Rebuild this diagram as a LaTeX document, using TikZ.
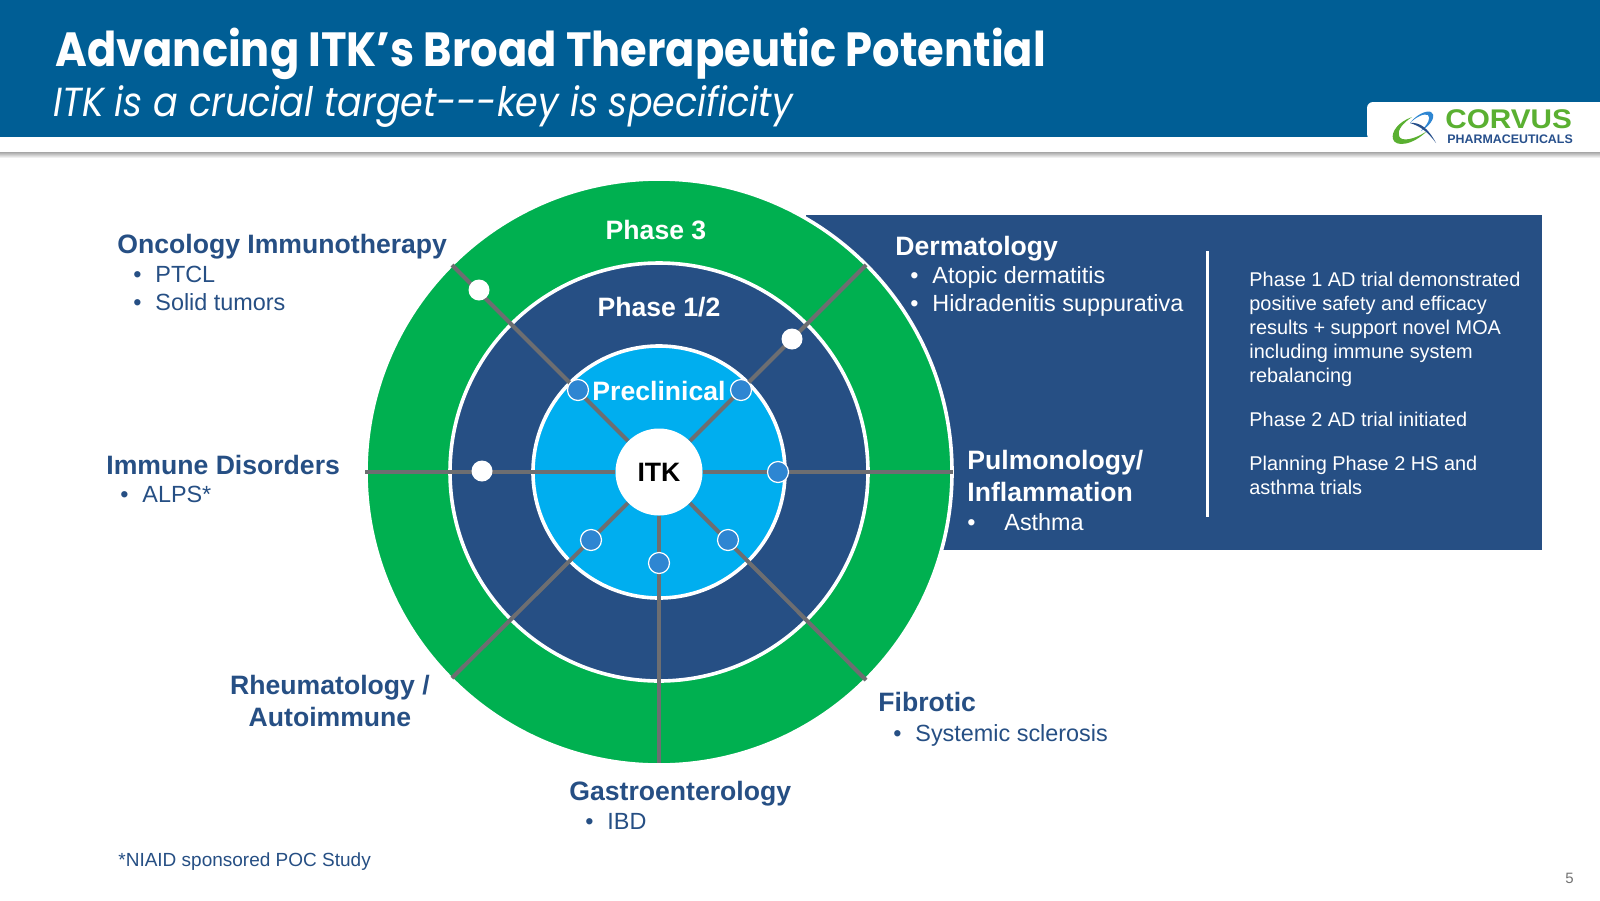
\documentclass[tikz,border=0pt]{standalone}
\usepackage{fontspec}
\setmainfont{Liberation Sans}
\newfontfamily\titlefont[FakeStretch=0.9]{Poppins}
\newfontfamily\logofont[FakeStretch=1.1]{Liberation Sans}
\definecolor{headblue}{RGB}{0,94,149}
\definecolor{navy}{RGB}{38,79,132}
\definecolor{skyblue}{RGB}{0,174,239}
\definecolor{ringgreen}{RGB}{0,176,80}
\definecolor{spokegray}{RGB}{109,110,113}
\definecolor{dotblue}{RGB}{46,134,210}
\definecolor{logogreen}{RGB}{90,176,49}
\definecolor{logoblue}{RGB}{39,80,140}
\newcommand{\fs}[2]{\fontsize{#1}{#2}\selectfont}
\newcommand{\bul}[1]{\makebox[11pt][l]{•}#1}
\tikzset{
	ring/.style={circle, draw=white, line width=1.8pt, inner sep=0pt},
	spoke/.style={draw=spokegray, line width=2pt},
	bigdot/.style={circle, fill=white, minimum size=10.5pt, inner sep=0pt},
	smalldot/.style={circle, fill=dotblue, draw=white, line width=0.6pt, minimum size=10.5pt, inner sep=0pt},
	head/.style={anchor=base west, inner sep=0pt, align=left, text=navy, font=\bfseries\fs{13.3}{15.7}},
	lst/.style={anchor=base west, inner sep=0pt, align=left, text=navy, font=\fs{11.7}{13.6}},
	note/.style={anchor=base west, inner sep=0pt, align=left, text=white, font=\fs{9.95}{12}},
	phase/.style={anchor=base, inner sep=0pt, text=white, font=\bfseries\fs{13.3}{15}}
}
\begin{document}
\begin{tikzpicture}[x=0.5pt,y=-0.5pt]
	\useasboundingbox (0,0) rectangle (1600,900);
	\fill[white] (0,0) rectangle (1600,900);
	% header
	\fill[headblue] (0,0) rectangle (1600,137);
	\fill[white, rounded corners=3pt] (1367,140) -- (1367,102) -- (1610,102) -- (1610,140) -- cycle;
	\fill[white] (0,137) rectangle (1600,152);
	\shade[top color=black!35, bottom color=white] (0,152) rectangle (1600,158);
	\node[anchor=base west, inner sep=0pt, text=white, font=\titlefont\bfseries\fs{24}{26}] (title) at (55,66) {Advancing ITK’s Broad Therapeutic Potential};
	\node[anchor=base west, inner sep=0pt, text=white, font=\titlefont\itshape\fs{20.3}{22}] (subtitle) at (53,116) {ITK is a crucial target---key is specificity};
	% logo
	\fill[logogreen] (1412,117) .. controls (1398,122) and (1391,132) .. (1393,139) .. controls (1395,147) and (1412,146) .. (1427,131) .. controls (1414,140) and (1401,142) .. (1399,136) .. controls (1397,130) and (1403,123) .. (1412,117) -- cycle;
	\fill[dotblue] (1410,123) .. controls (1416,115) and (1426,110) .. (1431,112) .. controls (1436,114) and (1433,124) .. (1421,131) .. controls (1428,124) and (1431,118) .. (1428,115) .. controls (1424,113) and (1416,117) .. (1410,123) -- cycle;
	\fill[logoblue] (1410,123) .. controls (1420,122) and (1428,128) .. (1436,143) .. controls (1428,132) and (1420,126) .. (1410,123) -- cycle;
	\node[anchor=base west, inner sep=0pt, text=logogreen, font=\logofont\bfseries\fs{13.5}{15}] (corvus) at (1445,128) {CORVUS};
	\node[anchor=base west, inner sep=0pt, text=logoblue, font=\bfseries\fs{6.2}{7}] (pharma) at (1447,143) {PHARMACEUTICALS};
	% box behind rings
	\fill[navy] (806,215) rectangle (1542,550);
	\draw[white, line width=1.5pt] (1207,251) -- (1207,517);
	% rings
	\node[ring, fill=ringgreen, minimum size=293pt] (ph3) at (659,472) {};
	\node[ring, fill=navy, minimum size=209pt] (ph12) at (659,472) {};
	\node[ring, fill=skyblue, minimum size=126pt] (pre) at (659,472) {};
	\node[circle, fill=white, minimum size=43.5pt, inner sep=0pt, font=\bfseries\fs{13.3}{15}] (itk) at (659,472) {ITK};
	% spokes
	\coordinate (onc) at (452,265);
	\coordinate (der) at (866,265);
	\coordinate (imm) at (365,472);
	\coordinate (pul) at (953,472);
	\coordinate (rhe) at (452,678);
	\coordinate (fib) at (866,680);
	\coordinate (gas) at (659,763);
	\foreach \nm in {onc,der,imm,pul,rhe,fib,gas}
		\draw[spoke] (itk) -- (\nm);
	% dots
	\node[bigdot] (d1) at (479,290) {};
	\node[bigdot] (d2) at (792,339) {};
	\node[bigdot] (d3) at (482,471) {};
	\node[smalldot] (d4) at (578,390) {};
	\node[smalldot] (d5) at (741,390) {};
	\node[smalldot] (d6) at (778,472) {};
	\node[smalldot] (d7) at (591,540) {};
	\node[smalldot] (d8) at (728,540) {};
	\node[smalldot] (d9) at (659,563) {};
	% phase labels
	\node[phase] (p3) at (656,239) {Phase 3};
	\node[phase] (p12) at (659,316) {Phase 1/2};
	\node[phase] (p0) at (659,400) {Preclinical};
	% left labels
	\node[head] (l1) at (117,253) {Oncology Immunotherapy};
	\node[lst] (l1a) at (133,310) {\bul{PTCL}\\\bul{Solid tumors}};
	\node[head] (l2) at (106,474) {Immune Disorders};
	\node[lst] (l2a) at (120,502) {\bul{ALPS*}};
	\node[head, align=center, anchor=north] (l3) at (330,675) {Rheumatology /\\Autoimmune};
	\node[head] (l4) at (569,800) {Gastroenterology};
	\node[lst] (l4a) at (585,829) {\bul{IBD}};
	\node[head] (l5) at (878,711) {Fibrotic};
	\node[lst] (l5a) at (893,741) {\bul{Systemic sclerosis}};
	% box labels
	\node[head, text=white] (r1) at (895,255) {Dermatology};
	\node[lst, text=white] (r1a) at (910,311) {\bul{Atopic dermatitis}\\\bul{Hidradenitis suppurativa}};
	\node[head, text=white, anchor=north west] (r2) at (967,450) {Pulmonology/\\Inflammation};
	\node[lst, text=white] (r2a) at (967,530) {\makebox[18.5pt][l]{•}Asthma};
	\node[note, anchor=north west] (n1) at (1249,272) {Phase 1 AD trial demonstrated\\positive safety and efficacy\\results + support novel MOA\\including immune system\\rebalancing};
	\node[note] (n2) at (1249,426) {Phase 2 AD trial initiated};
	\node[note, anchor=north west] (n3) at (1249,456) {Planning Phase 2 HS and\\asthma trials};
	% footer
	\node[anchor=base west, inner sep=0pt, text=navy, font=\fs{9.5}{11}] (foot) at (118,866) {*NIAID sponsored POC Study};
	\node[anchor=base east, inner sep=0pt, text=black!55, font=\fs{7.5}{9}] (num) at (1574,883) {5};
\end{tikzpicture}
\end{document}
